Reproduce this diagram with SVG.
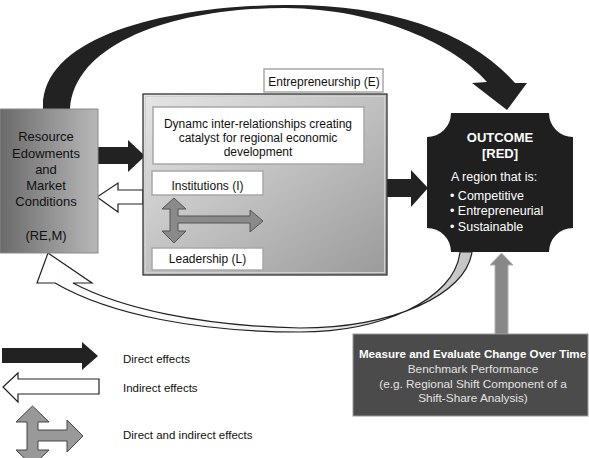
<svg xmlns="http://www.w3.org/2000/svg" width="589" height="458" viewBox="0 0 589 458">
<defs>
<linearGradient id="gRes" x1="0" y1="0" x2="1" y2="0">
<stop offset="0" stop-color="#6a6a6a"/>
<stop offset="1" stop-color="#b8b8b8"/>
</linearGradient>
<linearGradient id="gEnt" x1="0" y1="0" x2="1" y2="1">
<stop offset="0" stop-color="#e6e6e6"/>
<stop offset="1" stop-color="#9a9a9a"/>
</linearGradient>
<linearGradient id="gBack" x1="0" y1="0" x2="1" y2="0">
<stop offset="0" stop-color="#ffffff"/>
<stop offset="0.6" stop-color="#f4f4f4"/>
<stop offset="1" stop-color="#c4c4c4"/>
</linearGradient>
<style>
text{font-family:"Liberation Sans",Arial,sans-serif;}
.t{font-size:12px;fill:#111;text-anchor:middle;}
.tr{font-size:13px;fill:#111;text-anchor:middle;}
.wb{font-size:13px;fill:#fff;font-weight:bold;text-anchor:middle;}
.w{font-size:12.5px;fill:#fff;}
.lg{font-size:11.5px;fill:#111;}
.box{fill:#fff;stroke:#a8a8a8;stroke-width:1.5;}
.dark{fill:#222;}
.hollow{fill:#fff;stroke:#222;stroke-width:1.2;}
.cross{fill:#8a8a8a;stroke:#555;stroke-width:1;}
</style>
</defs>

<g id="connectors">
<path id="top-arc" class="dark" d="M43,109 C40,35 170,6 285,5 C390,4 470,32 515,83 L527,83 L507,110 L472,83 L487,82 C455,45 380,9 285,8 C180,8 75,40 70,109 Z"/>
<path id="back-arc" fill="url(#gBack)" stroke="#222" stroke-width="1.2" d="M460,252 C455,300 380,332 300,332 C200,332 110,315 55,283 L37,283 L48,253 L92,283 L73,283 C120,308 200,326 300,328 C392,328 466,295 472,252 Z"/>
<path id="res-to-ent" class="dark" d="M97,147 L128,147 L128,140 L145,156 L128,172 L128,164 L97,164 Z"/>
<path id="ent-to-res" class="hollow" d="M143,190 L118,190 L118,183 L97,197 L118,212 L118,204 L143,204 Z"/>
<path id="ent-to-out" class="dark" d="M387,179 L411,179 L411,170 L428,188 L411,207 L411,197 L387,197 Z"/>
<path id="measure-to-out" fill="#888" stroke="#b0b0b0" stroke-width="1" d="M495,335 L495,265 L490,265 L501.5,253 L513,265 L508,265 L508,335 Z"/>
</g>

<g id="resource">
<rect x="0" y="109" width="98" height="144" fill="url(#gRes)" stroke="#8a8a8a" stroke-width="1"/>
<text class="tr" x="46" y="141">Resource</text>
<text class="tr" x="46" y="158">Edowments</text>
<text class="tr" x="46" y="174">and</text>
<text class="tr" x="46" y="190">Market</text>
<text class="tr" x="46" y="206">Conditions</text>
<text class="tr" x="46" y="240">(RE,M)</text>
</g>

<g id="entrepreneurship">
<rect x="264" y="69" width="119" height="23" class="box"/>
<text class="t" x="324" y="86">Entrepreneurship (E)</text>
<rect x="143" y="94" width="244" height="181" fill="url(#gEnt)" stroke="#333" stroke-width="1.3"/>
<rect x="145.5" y="96.5" width="239" height="176" fill="none" stroke="#d0d0d0" stroke-width="1"/>
</g>

<g id="dynamics">
<rect x="153" y="107" width="211" height="57" class="box"/>
<text class="t" x="258" y="127.5">Dynamc inter-relationships creating</text>
<text class="t" x="258" y="141.5">catalyst for regional economic</text>
<text class="t" x="258" y="155.5">development</text>
</g>

<g id="institutions">
<rect x="152" y="171" width="111" height="24" class="box"/>
<text class="t" x="207.5" y="189.5">Institutions (I)</text>
</g>

<g id="leadership">
<rect x="152" y="248" width="111" height="22" class="box"/>
<text class="t" x="207.5" y="263">Leadership (L)</text>
</g>

<g id="interaction-arrow">
<path class="cross" d="M174,198 L186,209 L178,209 L178,216 L250,216 L250,210 L263,221 L250,232 L250,223 L178,223 L178,231 L186,231 L174,243 L162,231 L170,231 L170,209 L162,209 Z"/>
</g>

<g id="outcome">
<path fill="#1f1f1f" d="M451,113 L549,113 A24,24 0 0 0 573,137 L573,228 A24,24 0 0 0 549,252 L451,252 A24,24 0 0 0 427,228 L427,137 A24,24 0 0 0 451,113 Z"/>
<text class="wb" x="500" y="141.5">OUTCOME</text>
<text class="wb" x="500" y="157.5">[RED]</text>
<text class="w" x="451" y="180.5">A region that is:</text>
<text class="w" x="450" y="199.5">• Competitive</text>
<text class="w" x="450" y="215">• Entrepreneurial</text>
<text class="w" x="450" y="231">• Sustainable</text>
</g>

<g id="measure">
<rect x="353" y="334" width="235" height="82" fill="#4b4b4b" stroke="#9a9a9a" stroke-width="1"/>
<text x="472.5" y="358" style="font-size:11.6px;font-weight:bold;fill:#fff;text-anchor:middle">Measure and Evaluate Change Over Time</text>
<text x="473" y="373" style="font-size:11.8px;fill:#e2e2e2;text-anchor:middle">Benchmark Performance</text>
<text x="473" y="387.5" style="font-size:11.8px;fill:#e2e2e2;text-anchor:middle">(e.g. Regional Shift Component of a</text>
<text x="473" y="401.5" style="font-size:11.8px;fill:#e2e2e2;text-anchor:middle">Shift-Share Analysis)</text>
</g>

<g id="legend">
<path class="dark" d="M2,348 L82,348 L82,342 L98,356 L82,370 L82,363 L2,363 Z"/>
<text class="lg" x="123" y="363">Direct effects</text>
<path class="hollow" d="M99,379 L18,379 L18,373 L3,387 L18,402 L18,394 L99,394 Z"/>
<text class="lg" x="123" y="391.5">Indirect effects</text>
<path fill="#999" stroke="#444" stroke-width="1" d="M32.5,406 L49,422 L38,422 L38,430 L67,430 L67,420 L83,436 L67,452 L67,441 L38,441 L38,450 L49,450 L32.5,466 L16,450 L27,450 L27,422 L16,422 Z"/>
<text class="lg" x="123" y="438.5">Direct and indirect effects</text>
</g>
</svg>
